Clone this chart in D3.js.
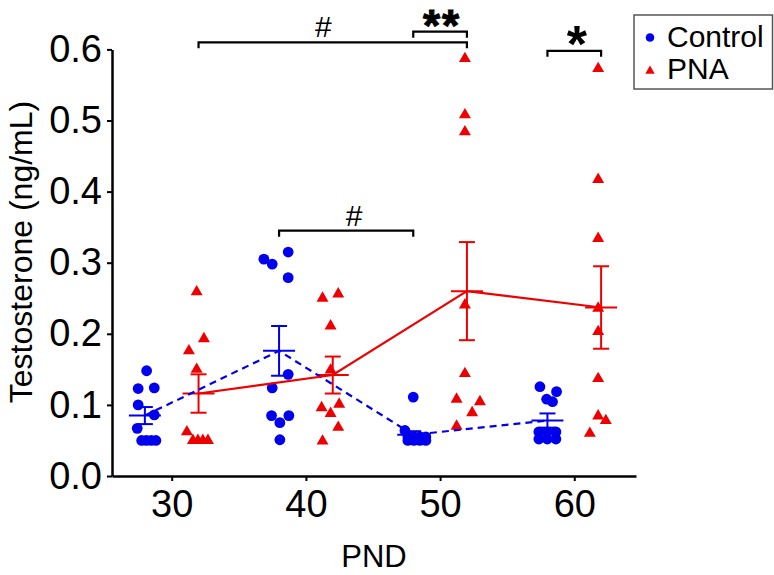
<!DOCTYPE html>
<html><head><meta charset="utf-8">
<script src="https://cdn.jsdelivr.net/npm/d3@7/dist/d3.min.js"></script>
<style>
html,body{margin:0;padding:0;background:#fff;}
svg{display:block;font-family:"Liberation Sans",Arial,sans-serif;}
</style></head>
<body>
<svg id="chart" width="774" height="575"></svg>
<script>
// ---- data ----
const yTicks = [0.0, 0.1, 0.2, 0.3, 0.4, 0.5, 0.6];
const xTicks = [30, 40, 50, 60];

// group positions (PND)
const ctrlDays = [28, 38, 48, 58];
const pnaDays  = [32, 42, 52, 62];

// group means and SEM
const ctrlMean = [0.085, 0.176, 0.058, 0.078];
const ctrlSem  = [0.012, 0.035, 0.005, 0.010];
const pnaMean  = [0.116, 0.142, 0.260, 0.237];
const pnaSem   = [0.027, 0.026, 0.069, 0.058];

// individual animals: x (PND incl. scatter spread) and testosterone values
const ctrlX = [
  28.13, 27.50, 28.70, 27.50, 28.70, 27.43, 27.76, 28.11, 28.47, 28.82,
  36.87, 37.49, 38.68, 38.68, 38.68, 37.49, 37.44, 38.06, 38.73, 38.06,
  48.00, 47.38, 47.60, 48.05, 48.49, 48.94, 47.60, 48.05, 48.49, 48.94,
  57.44, 58.68, 57.94, 58.38, 57.36, 57.99, 58.63, 57.36, 57.99, 58.63
];
const ctrlY = [
  0.148, 0.123, 0.124, 0.100, 0.086, 0.067, 0.050, 0.050, 0.050, 0.050,
  0.305, 0.298, 0.315, 0.279, 0.143, 0.124, 0.085, 0.075, 0.085, 0.051,
  0.111, 0.064, 0.055, 0.055, 0.055, 0.055, 0.050, 0.050, 0.050, 0.050,
  0.1256, 0.1186, 0.108, 0.1045, 0.062, 0.062, 0.062, 0.052, 0.052, 0.052
];
const pnaX = [
  31.86, 32.40, 31.28, 31.86, 31.13, 31.58, 31.95, 32.32, 32.70,
  41.24, 42.41, 41.84, 41.84, 41.17, 42.48, 41.84, 42.41, 41.24,
  51.85, 51.85, 51.85, 51.85, 51.85, 51.23, 52.97, 52.39, 51.23,
  61.78, 61.78, 61.78, 61.78, 61.78, 61.78, 61.78, 62.35, 61.16
];
const pnaY = [
  0.259, 0.193, 0.176, 0.150, 0.062, 0.050, 0.050, 0.050, 0.050,
  0.250, 0.256, 0.211, 0.149, 0.096, 0.101, 0.088, 0.0685, 0.049,
  0.587, 0.508, 0.484, 0.2405, 0.144, 0.108, 0.1045, 0.089, 0.070,
  0.573, 0.417, 0.334, 0.236, 0.203, 0.137, 0.0844, 0.078, 0.060
];

// significance brackets: from PND, to PND, bracket level (ng/mL), label, label PND
const sigFrom   = [32, 48, 58, 38];
const sigTo     = [52, 52, 62, 48];
const sigLevel  = [0.610, 0.625, 0.598, 0.345];
const sigLabel  = ["#", "**", "*", "#"];
const sigLabelX = [41.3, 50.15, 60.2, 43.6];

const seriesNames = ["Control", "PNA"];

// ---- drawing ----
const svg = d3.select("#chart");
const BLUE = "#0000ee", RED = "#ee0000";

const x = d3.scaleLinear().domain([25.55, 64.6]).range([112, 636]);
const y = d3.scaleLinear().domain([0, 0.6]).range([476, 49.4]);

// axes
const yAxis = svg.append("g").attr("transform", `translate(${x(25.55)},0)`)
  .call(d3.axisLeft(y).tickValues(yTicks).tickFormat(d3.format(".1f")).tickSize(5).tickSizeOuter(0).tickPadding(5));
const xAxis = svg.append("g").attr("transform", `translate(0,${y(0)})`)
  .call(d3.axisBottom(x).tickValues(xTicks).tickSize(5).tickSizeOuter(0).tickPadding(9));
[yAxis, xAxis].forEach(a => {
  a.select(".domain").attr("stroke", "#000").attr("stroke-width", 2.5);
  a.selectAll(".tick line").attr("stroke", "#000").attr("stroke-width", 2);
  a.selectAll(".tick text").attr("font-size", 38).attr("fill", "#000")
    .attr("font-family", "Liberation Sans, Arial, sans-serif");
});

svg.append("text").attr("transform", `translate(32,252) rotate(-90)`)
  .attr("text-anchor", "middle").attr("font-size", 32).text("Testosterone (ng/mL)");
svg.append("text").attr("x", (x(25.55) + x(64.6)) / 2).attr("y", 567)
  .attr("text-anchor", "middle").attr("font-size", 31).text("PND");

// points
const tri = d3.symbol().type(d3.symbolTriangle).size(62);
svg.append("g").selectAll("circle").data(ctrlY).join("circle")
  .attr("cx", (d, i) => x(ctrlX[i])).attr("cy", d => y(d)).attr("r", 5.4).attr("fill", BLUE);
svg.append("g").selectAll("path").data(pnaY).join("path")
  .attr("d", tri).attr("transform", (d, i) => `translate(${x(pnaX[i])},${y(d)})`).attr("fill", RED);

// error bars
function errBars(days, mean, sem, color) {
  const g = svg.append("g").attr("stroke", color).attr("stroke-width", 2).attr("fill", "none");
  days.forEach((dd, i) => {
    const cx = x(dd);
    g.append("line").attr("x1", cx).attr("x2", cx).attr("y1", y(mean[i] - sem[i])).attr("y2", y(mean[i] + sem[i]));
    g.append("line").attr("x1", cx - 8).attr("x2", cx + 8).attr("y1", y(mean[i] + sem[i])).attr("y2", y(mean[i] + sem[i]));
    g.append("line").attr("x1", cx - 8).attr("x2", cx + 8).attr("y1", y(mean[i] - sem[i])).attr("y2", y(mean[i] - sem[i]));
    g.append("line").attr("x1", cx - 16).attr("x2", cx + 16).attr("y1", y(mean[i])).attr("y2", y(mean[i]));
  });
}
errBars(ctrlDays, ctrlMean, ctrlSem, BLUE);
errBars(pnaDays, pnaMean, pnaSem, RED);

// connecting lines
const line = d3.line().x(d => x(d[0])).y(d => y(d[1]));
svg.append("path").datum(ctrlDays.map((d, i) => [d, ctrlMean[i]]))
  .attr("d", line).attr("fill", "none").attr("stroke", BLUE).attr("stroke-width", 2.2).attr("stroke-dasharray", "7,5");
svg.append("path").datum(pnaDays.map((d, i) => [d, pnaMean[i]]))
  .attr("d", line).attr("fill", "none").attr("stroke", RED).attr("stroke-width", 2.2);

// significance brackets
const sg = svg.append("g");
sigFrom.forEach((f, i) => {
  const x1 = x(f), x2 = x(sigTo[i]), yy = y(sigLevel[i]);
  sg.append("path").attr("d", `M${x1},${yy + 6}V${yy}H${x2}V${yy + 6}`)
    .attr("fill", "none").attr("stroke", "#000").attr("stroke-width", 2.2);
  const label = sigLabel[i];
  const t = sg.append("text").attr("x", x(sigLabelX[i])).attr("text-anchor", "middle").text(label);
  if (label === "**") {
    // keep the whole text box inside the picture
    t.attr("font-size", 44).attr("font-weight", "bold").attr("y", 40.5)
     .attr("letter-spacing", 2).attr("stroke", "#000").attr("stroke-width", 1);
  } else if (label === "*") {
    t.attr("font-size", 52).attr("font-weight", "bold").attr("y", yy + 11);
  } else {
    t.attr("font-size", 30).attr("y", yy - 5);
  }
});

// legend
const lg = svg.append("g");
lg.append("rect").attr("x", 634).attr("y", 15).attr("width", 138.5).attr("height", 74)
  .attr("fill", "#fff").attr("stroke", "#555").attr("stroke-width", 1.5);
lg.append("circle").attr("cx", 650).attr("cy", 37.5).attr("r", 4.3).attr("fill", BLUE);
lg.append("path").attr("d", d3.symbol().type(d3.symbolTriangle).size(38))
  .attr("transform", "translate(650,71)").attr("fill", RED);
seriesNames.forEach((n, i) => {
  lg.append("text").attr("x", 667).attr("y", 47 + i * 32).attr("font-size", 30).text(n);
});
</script>
</body></html>
